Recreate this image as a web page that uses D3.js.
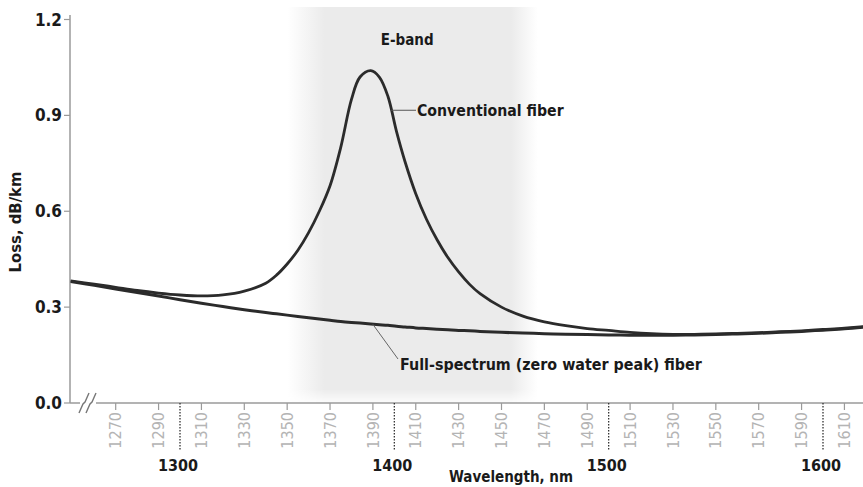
<!DOCTYPE html>
<html>
<head>
<meta charset="utf-8">
<script src="https://cdn.jsdelivr.net/npm/d3@7"></script>
<style>
  html, body { margin: 0; padding: 0; background: #fff; }
  svg { display: block; }
  text { font-family: "Liberation Sans Narrow", "Arial Narrow", "DejaVu Sans Condensed", sans-serif; }
</style>
</head>
<body>
<svg id="chart" width="863" height="487"></svg>
<script>
// ---- data ----
const wavelengths = [1249,1260,1270,1280,1290,1300,1310,1320,1330,1340,1345,1350,1355,1360,1365,1370,1375,1380,1384,1389,1393,1397,1401,1405,1410,1415,1420,1425,1430,1435,1440,1450,1460,1470,1480,1490,1500,1510,1520,1530,1540,1550,1560,1570,1580,1590,1600,1610,1619];
const conventional = [0.382,0.372,0.362,0.352,0.344,0.338,0.335,0.338,0.350,0.375,0.400,0.435,0.478,0.533,0.600,0.680,0.800,0.950,1.020,1.040,1.020,0.960,0.850,0.755,0.655,0.575,0.510,0.455,0.410,0.372,0.342,0.300,0.272,0.254,0.242,0.233,0.227,0.221,0.217,0.215,0.215,0.216,0.218,0.220,0.223,0.226,0.230,0.234,0.239];
const fullSpectrum = [0.380,0.368,0.357,0.346,0.335,0.323,0.312,0.302,0.292,0.283,0.279,0.275,0.271,0.267,0.263,0.259,0.255,0.252,0.250,0.247,0.245,0.243,0.240,0.238,0.235,0.233,0.231,0.229,0.227,0.226,0.224,0.221,0.219,0.217,0.215,0.214,0.213,0.212,0.212,0.212,0.213,0.214,0.216,0.218,0.221,0.224,0.228,0.232,0.237];
const yTicks = [0.0, 0.3, 0.6, 0.9, 1.2];
const minorTicks = [1270,1290,1310,1330,1350,1370,1390,1410,1430,1450,1470,1490,1510,1530,1550,1570,1590,1610];
const majorTicks = [1300,1400,1500,1600];
const eBand = [1360, 1460];
const labels = { band: "E-band", conv: "Conventional fiber", full: "Full-spectrum (zero water peak) fiber", y: "Loss, dB/km", x: "Wavelength, nm" };

// ---- scales ----
const svg = d3.select("#chart");
const x = d3.scaleLinear().domain([1300, 1600]).range([180, 823]);
const y = d3.scaleLinear().domain([0, 1.2]).range([403, 19.5]);
const x0 = 70, xEnd = 863;

// ---- E-band shading ----
const defs = svg.append("defs");
const gx1 = x(eBand[0]) - 21, gx2 = x(eBand[1]) + 15, gw = gx2 - gx1;
const grad = defs.append("linearGradient").attr("id", "band").attr("gradientUnits", "userSpaceOnUse")
  .attr("x1", gx1).attr("x2", gx2).attr("y1", 0).attr("y2", 0);
[[gx1, "#ffffff"], [x(eBand[0]) + 16, "#ebebeb"], [x(eBand[1]) - 12, "#ebebeb"], [gx2, "#ffffff"]]
  .forEach(([p, c]) => grad.append("stop").attr("offset", (p - gx1) / gw).attr("stop-color", c));
const vgrad = defs.append("linearGradient").attr("id", "vfade").attr("gradientUnits", "userSpaceOnUse")
  .attr("x1", 0).attr("x2", 0).attr("y1", 7).attr("y2", y(0));
vgrad.append("stop").attr("offset", 0).attr("stop-color", "#fff");
vgrad.append("stop").attr("offset", 0.965).attr("stop-color", "#fff");
vgrad.append("stop").attr("offset", 1).attr("stop-color", "#222");
defs.append("mask").attr("id", "bandMask").append("rect")
  .attr("x", 0).attr("y", 0).attr("width", 863).attr("height", 487).attr("fill", "url(#vfade)");
svg.append("rect").attr("x", gx1).attr("width", gw).attr("y", 7).attr("height", y(0) - 7)
  .attr("fill", "url(#band)").attr("mask", "url(#bandMask)");

// ---- axes ----
const axisColor = "#9a9a9a";
const dark = "#1a1a1a";
svg.append("line").attr("x1", x0).attr("x2", x0).attr("y1", 15).attr("y2", y(0)).attr("stroke", axisColor).attr("stroke-width", 1.5);
const yAxis = svg.append("g");
yTicks.forEach(t => {
  yAxis.append("line").attr("x1", x0 - 6).attr("x2", x0).attr("y1", y(t)).attr("y2", y(t)).attr("stroke", axisColor).attr("stroke-width", 1.2);
  yAxis.append("text").attr("x", x0 - 8).attr("y", y(t)).attr("dy", "0.36em").attr("text-anchor", "end")
    .attr("font-size", 17).attr("font-weight", "bold").attr("fill", dark).text(t.toFixed(1));
});
svg.append("line").attr("x1", x0).attr("x2", 80).attr("y1", y(0)).attr("y2", y(0)).attr("stroke", axisColor).attr("stroke-width", 1.5);
svg.append("line").attr("x1", 96).attr("x2", xEnd).attr("y1", y(0)).attr("y2", y(0)).attr("stroke", axisColor).attr("stroke-width", 1.5);
[0, 7].forEach(o => {
  svg.append("path")
    .attr("d", `M${79 + o},${y(0) + 10} L${83 + o},${y(0) + 1} L${85 + o},${y(0) - 1} L${89 + o},${y(0) - 10}`)
    .attr("fill", "none").attr("stroke", "#777").attr("stroke-width", 1.4);
});
minorTicks.forEach(t => {
  svg.append("line").attr("x1", x(t)).attr("x2", x(t)).attr("y1", y(0)).attr("y2", y(0) + 7).attr("stroke", "#9a9a9a").attr("stroke-width", 1.2);
  svg.append("text").attr("transform", `translate(${x(t)},${y(0) + 9}) rotate(-90)`)
    .attr("text-anchor", "end").attr("dy", "0.35em").attr("font-size", 16).attr("fill", "#b4b4b4").text(t);
});
majorTicks.forEach(t => {
  svg.append("line").attr("x1", x(t)).attr("x2", x(t)).attr("y1", y(0)).attr("y2", y(0) + 47)
    .attr("stroke", "#333").attr("stroke-width", 1.3).attr("stroke-dasharray", "1.5,1.5");
  svg.append("text").attr("x", x(t) - 2).attr("y", 471).attr("text-anchor", "middle")
    .attr("font-size", 16).attr("font-weight", "bold").attr("fill", dark).text(t);
});

svg.append("text").attr("transform", `translate(21,222) rotate(-90)`).attr("text-anchor", "middle")
  .attr("font-size", 16.5).attr("font-weight", "bold").attr("fill", dark).text(labels.y);
svg.append("text").attr("x", 511).attr("y", 482).attr("text-anchor", "middle")
  .attr("font-size", 15).attr("font-weight", "bold").attr("fill", dark).text(labels.x);

// ---- curves ----
const line = d3.line().x((d, i) => x(wavelengths[i])).y(d => y(d)).curve(d3.curveCatmullRom.alpha(0.5));
svg.append("path").datum(fullSpectrum).attr("d", line).attr("fill", "none").attr("stroke", "#2b2b2b").attr("stroke-width", 3);
svg.append("path").datum(conventional).attr("d", line).attr("fill", "none").attr("stroke", "#2b2b2b").attr("stroke-width", 2.8);

// ---- annotations ----
svg.append("text").attr("x", x(1406)).attr("y", 45).attr("text-anchor", "middle")
  .attr("font-size", 15).attr("font-weight", "bold").attr("fill", dark).text(labels.band);
const convAt = d3.interpolateNumber(conventional[wavelengths.indexOf(1397)], conventional[wavelengths.indexOf(1401)]);
const ly = y(convAt(0.4));
svg.append("line").attr("x1", x(1398.5)).attr("x2", 416).attr("y1", ly).attr("y2", ly)
  .attr("stroke", "#555").attr("stroke-width", 1);
svg.append("text").attr("x", 417).attr("y", ly).attr("dy", "0.35em")
  .attr("font-size", 15.7).attr("font-weight", "bold").attr("fill", dark).text(labels.conv);
svg.append("line").attr("x1", x(1390)).attr("y1", y(0.246)).attr("x2", 398).attr("y2", 359)
  .attr("stroke", "#666").attr("stroke-width", 1);
svg.append("text").attr("x", 400).attr("y", 370)
  .attr("font-size", 15.9).attr("font-weight", "bold").attr("fill", dark).text(labels.full);
</script>
</body>
</html>
